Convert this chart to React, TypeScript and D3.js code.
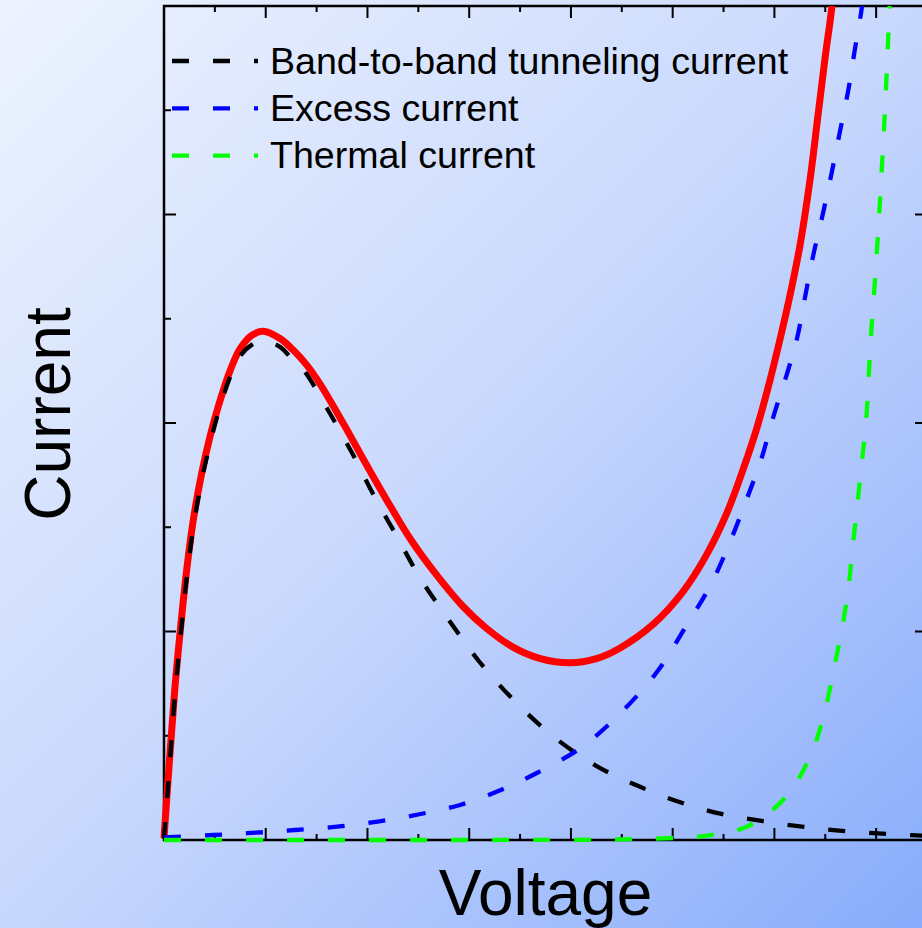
import React, { useEffect, useRef } from "react";
import * as d3 from "d3";

// values (voltage in major-tick units, current in minor-tick units)
const totalV = [0, 0.059, 0.108, 0.157, 0.223, 0.288, 0.371, 0.452, 0.534, 0.649, 0.747, 0.862, 0.976, 1.14, 1.27, 1.4, 1.53, 1.76, 1.99, 2.22, 2.42, 2.65, 2.94, 3.17, 3.43, 3.7, 3.99, 4.25, 4.48, 4.81, 5.1, 5.33, 5.53, 5.694, 5.826, 5.957, 6.065, 6.154, 6.252, 6.35, 6.429, 6.498, 6.566, 6.605];
const totalI = [0.02, 0.835, 1.47, 1.98, 2.59, 3.07, 3.52, 3.87, 4.16, 4.5, 4.71, 4.84, 4.88, 4.81, 4.7, 4.56, 4.38, 4.0, 3.6, 3.21, 2.89, 2.58, 2.24, 2.03, 1.85, 1.74, 1.7, 1.74, 1.84, 2.07, 2.38, 2.73, 3.13, 3.559, 3.946, 4.412, 4.844, 5.228, 5.707, 6.331, 6.954, 7.501, 8.0, 8.44];

const btbtV = [0, 0.059, 0.108, 0.157, 0.223, 0.288, 0.371, 0.452, 0.534, 0.649, 0.747, 0.862, 0.976, 1.14, 1.27, 1.37, 1.62, 1.85, 2.06, 2.29, 2.52, 2.8, 3.1, 3.47, 3.87, 4.27, 4.68, 5.08, 5.48, 5.89, 6.29, 6.69, 7.1, 7.5];
const btbtI = [0.01, 0.77, 1.39, 1.9, 2.51, 3.0, 3.45, 3.8, 4.1, 4.44, 4.64, 4.75, 4.79, 4.73, 4.6, 4.51, 4.11, 3.71, 3.31, 2.91, 2.51, 2.11, 1.71, 1.31, 0.96, 0.7, 0.51, 0.36, 0.25, 0.18, 0.125, 0.086, 0.058, 0.04];

const excessV = [0, 0.49, 0.9, 1.29, 1.7, 2.1, 2.51, 2.91, 3.31, 3.66, 4.12, 4.52, 4.86, 5.13, 5.37, 5.56, 5.72, 5.87, 5.99, 6.12, 6.22, 6.3, 6.38, 6.475, 6.563, 6.645, 6.726, 6.792, 6.86, 6.9];
const excessI = [0.025, 0.048, 0.07, 0.096, 0.128, 0.176, 0.247, 0.336, 0.48, 0.64, 0.9, 1.25, 1.63, 2.05, 2.44, 2.85, 3.25, 3.65, 4.06, 4.46, 4.8, 5.2, 5.6, 6.0, 6.4, 6.8, 7.19, 7.59, 7.99, 8.4];

const thermalV = [0, 1, 2, 3, 4, 4.5, 4.92, 5.32, 5.73, 6.11, 6.35, 6.49, 6.579, 6.662, 6.727, 6.77, 6.815, 6.858, 6.901, 6.925, 6.949, 6.977, 7.005, 7.031, 7.054, 7.077, 7.097, 7.115, 7.131, 7.146];
const thermalI = [0, 0, 0, 0, 0.002, 0.006, 0.016, 0.04, 0.128, 0.41, 0.8, 1.21, 1.614, 2.014, 2.414, 2.813, 3.213, 3.613, 4.013, 4.41, 4.83, 5.21, 5.61, 6.01, 6.41, 6.81, 7.21, 7.61, 7.98, 8.4];

const legendLabels = ["Band-to-band tunneling current", "Excess current", "Thermal current"];
const legendColors = ["#000000", "#0000ff", "#00ff00"];

const xMajorTicks = [1, 2, 3, 4, 5, 6, 7];
const xMinorTicks = [0.5, 1.5, 2.5, 3.5, 4.5, 5.5, 6.5];
const yMajorTicks = [2, 4, 6];
const yMinorTicks = [1, 3, 5, 7];

const FONT = "Arial, 'Liberation Sans', sans-serif";

function App() {
  const ref = useRef<SVGSVGElement>(null);

  useEffect(() => {
    const W = 922;
    const H = 928;
    const svg = d3.select(ref.current).attr("width", W).attr("height", H);
    svg.selectAll("*").remove();

    const defs = svg.append("defs");
    const grad = defs
      .append("linearGradient")
      .attr("id", "bg-grad")
      .attr("gradientUnits", "userSpaceOnUse")
      .attr("x1", 0)
      .attr("y1", 0)
      .attr("x2", W)
      .attr("y2", H);
    grad.append("stop").attr("offset", 0).attr("stop-color", "#edf3fe");
    grad.append("stop").attr("offset", 0.5).attr("stop-color", "#c8d8fd");
    grad.append("stop").attr("offset", 1).attr("stop-color", "#88acfb");

    svg.append("rect").attr("width", W).attr("height", H).attr("fill", "url(#bg-grad)");

    const x = d3.scaleLinear().domain([0, 7.5]).range([164, 927]);
    const y = d3.scaleLinear().domain([0, 8]).range([840, 6]);

    defs
      .append("clipPath")
      .attr("id", "plot-clip")
      .append("rect")
      .attr("x", x(0) - 4)
      .attr("y", y(8))
      .attr("width", x(7.5) - x(0) + 8)
      .attr("height", y(0) - y(8) + 6);

    // frame
    svg
      .append("rect")
      .attr("x", x(0))
      .attr("y", y(8))
      .attr("width", x(7.5) - x(0))
      .attr("height", y(0) - y(8))
      .attr("fill", "none")
      .attr("stroke", "#000")
      .attr("stroke-width", 2.5);

    // ticks, all pointing inward
    const ticks = svg.append("g").attr("stroke", "#000").attr("stroke-width", 2);
    const addX = (vals: number[], len: number) => {
      vals.forEach((v) => {
        ticks.append("line").attr("x1", x(v)).attr("x2", x(v)).attr("y1", y(0)).attr("y2", y(0) - len);
        ticks.append("line").attr("x1", x(v)).attr("x2", x(v)).attr("y1", y(8)).attr("y2", y(8) + len);
      });
    };
    const addY = (vals: number[], len: number, right: boolean) => {
      vals.forEach((v) => {
        ticks.append("line").attr("x1", x(0)).attr("x2", x(0) + len).attr("y1", y(v)).attr("y2", y(v));
        if (right)
          ticks.append("line").attr("x1", x(7.5)).attr("x2", x(7.5) - len).attr("y1", y(v)).attr("y2", y(v));
      });
    };
    addX(xMajorTicks, 12);
    addX(xMinorTicks, 6);
    addY(yMajorTicks, 12, true);
    addY(yMinorTicks, 7, false);

    const line = d3
      .line<[number, number]>()
      .x((d) => x(d[0]))
      .y((d) => y(d[1]))
      .curve(d3.curveCatmullRom.alpha(0.5));

    const zip = (a: number[], b: number[]) => a.map((v, i) => [v, b[i]] as [number, number]);

    const curves = svg.append("g").attr("clip-path", "url(#plot-clip)");

    curves
      .append("path")
      .attr("d", line(zip(totalV, totalI)))
      .attr("fill", "none")
      .attr("stroke", "#ff0000")
      .attr("stroke-width", 7)
      .attr("stroke-linejoin", "round");

    const dashed = [
      zip(btbtV, btbtI),
      zip(excessV, excessI),
      zip(thermalV, thermalI),
    ];
    dashed.forEach((pts, i) => {
      curves
        .append("path")
        .attr("d", line(pts))
        .attr("fill", "none")
        .attr("stroke", legendColors[i])
        .attr("stroke-width", 4.3)
        .attr("stroke-dasharray", "17,24");
    });

    // legend
    const legend = svg.append("g");
    legendLabels.forEach((label, i) => {
      const ly = 61 + i * 47.3;
      legend
        .append("line")
        .attr("x1", 172)
        .attr("x2", 258)
        .attr("y1", ly)
        .attr("y2", ly)
        .attr("stroke", legendColors[i])
        .attr("stroke-width", 4.3)
        .attr("stroke-dasharray", "17,24");
      legend
        .append("text")
        .attr("x", 270)
        .attr("y", ly + 12.6)
        .text(label)
        .style("font-family", FONT)
        .style("font-size", "37.6px")
        .attr("fill", "#000");
    });

    // axis titles
    svg
      .append("text")
      .attr("transform", `translate(70,${(y(0) + y(8)) / 2 - 9}) rotate(-90)`)
      .attr("text-anchor", "middle")
      .text("Current")
      .style("font-family", FONT)
      .style("font-size", "64px")
      .attr("fill", "#000");

    svg
      .append("text")
      .attr("x", (x(0) + x(7.5)) / 2)
      .attr("y", 915)
      .attr("text-anchor", "middle")
      .text("Voltage")
      .style("font-family", FONT)
      .style("font-size", "64px")
      .attr("fill", "#000");
  }, []);

  return <svg ref={ref} style={{ position: "absolute", left: 0, top: 0, display: "block" }} />;
}

export default App;
